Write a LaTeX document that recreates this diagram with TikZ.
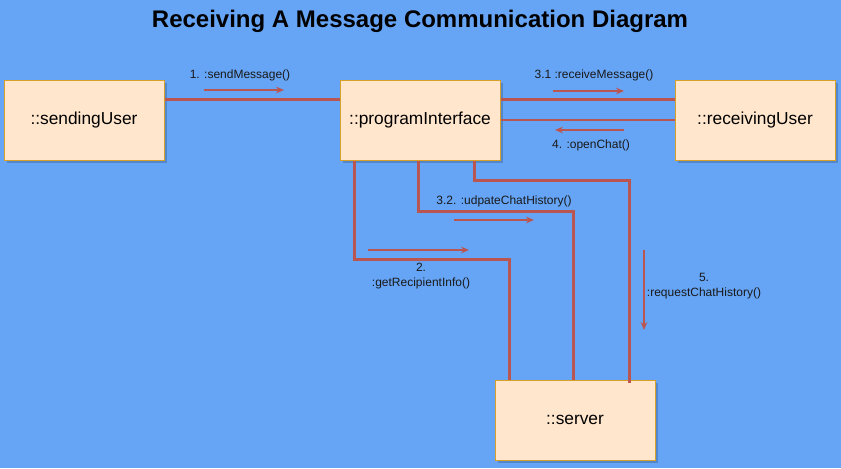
\documentclass[tikz,border=0pt]{standalone}
\usepackage{fontspec}
\setmainfont{Liberation Sans}
\usetikzlibrary{calc,arrows.meta}
\definecolor{bg}{RGB}{102,165,246}
\definecolor{boxfill}{RGB}{255,230,204}
\definecolor{boxline}{RGB}{215,160,40}
\definecolor{link}{RGB}{186,86,82}
\tikzset{
  obj/.style={draw=boxline, fill=boxfill, line width=0.75pt, minimum width=120pt, minimum height=60pt,
    inner sep=0pt, font=\fontsize{13}{15}\selectfont,
    preaction={draw=none, fill=black, fill opacity=0.18, transform canvas={shift={(2.2pt,-2.2pt)}}}},
  wire/.style={draw=link, line width=2.2pt},
  msg/.style={draw=link, line width=0.9pt, -{Stealth[length=6pt,width=5pt]}},
  lbl/.style={font=\fontsize{9}{11.7}\selectfont, align=center, inner sep=0pt, text=black!90}
}
\begin{document}
\begin{tikzpicture}[x=0.75pt,y=-0.75pt]
\fill[bg] (0,0) rectangle (841,468);
\useasboundingbox (0,0) rectangle (841,468);
\node[font=\bfseries\fontsize{18}{21}\selectfont] (title) at (420,21) {Receiving A Message Communication Diagram};
\node[obj] (su) at (84,120) {::sendingUser};
\node[obj] (pi) at (420,120) {::programInterface};
\node[obj] (ru) at (755,120) {::receivingUser};
\node[obj] (sv) at (575,420) {::server};
% wires
\draw[wire] ($(su.north east)+(0,20)$) -- ($(pi.north west)+(0,20)$);
\draw[wire] ($(pi.north east)+(0,20)$) -- ($(ru.north west)+(0,20)$);
\draw[wire] (pi.east) -- (ru.west);
\draw[wire] ($(pi.south west)+(15,0)$) -- ++(0,99) -| ($(sv.north west)+(15,0)$);
\draw[wire] ($(pi.south west)+(79,0)$) -- ++(0,51) -| ($(sv.north west)+(79,0)$);
\draw[wire] ($(pi.south west)+(135,0)$) -- ++(0,20) -| ($(sv.north west)+(135,3)$);
% message arrows
\coordinate (m1a) at (204,90); \coordinate (m1b) at (284,90);
\coordinate (m31a) at (553,91); \coordinate (m31b) at (624,91);
\coordinate (m4a) at (624,130); \coordinate (m4b) at (555,130);
\coordinate (m32a) at (454,220); \coordinate (m32b) at (534,220);
\coordinate (m2a) at (368,250); \coordinate (m2b) at (469,250);
\coordinate (m5a) at (644,250); \coordinate (m5b) at (644,330);
\draw[msg] (m1a) -- (m1b);
\draw[msg] (m31a) -- (m31b);
\draw[msg] (m4a) -- (m4b);
\draw[msg] (m32a) -- (m32b);
\draw[msg] (m2a) -- (m2b);
\draw[msg] (m5a) -- (m5b);
% labels
\node[lbl] (l1) at (240,75) {1. :sendMessage()};
\node[lbl] (l31) at (594,75) {3.1 :receiveMessage()};
\node[lbl] (l4) at (591,145) {4. :openChat()};
\node[lbl] (l32) at (504,201) {3.2. :udpateChatHistory()};
\node[lbl] (l2) at (421,276) {2.\\:getRecipientInfo()};
\node[lbl] (l5) at (704,286) {5.\\:requestChatHistory()};
\end{tikzpicture}
\end{document}
